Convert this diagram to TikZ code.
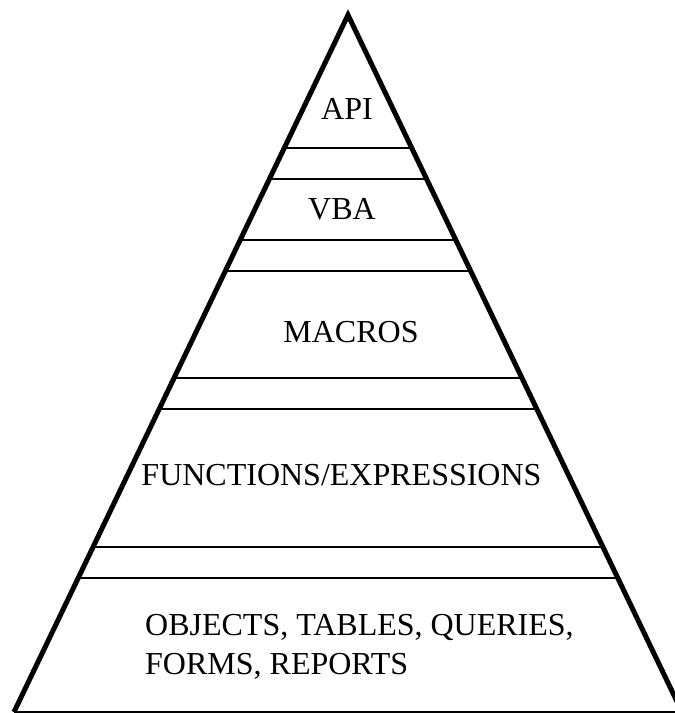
\documentclass[tikz,border=0pt]{standalone}
\usepackage{fontspec}
\setmainfont{Liberation Serif}
\usetikzlibrary{calc}
\begin{document}
\begin{tikzpicture}[x=1pt,y=-1pt,
  layertext/.style={inner sep=0pt, font=\fontsize{32}{39}\selectfont},
  divider/.style={line width=1.3pt, black},
  side/.style={line width=5pt, black, line join=miter}]
\useasboundingbox (0,0) rectangle (675,713);
\clip (0,0) rectangle (675,713);
\fill[white] (0,0) rectangle (675,713);

% pyramid corners
\coordinate (apex) at (348,15);
\coordinate (bl) at (14,712);
\coordinate (br) at (682,712);
\coordinate (bedge) at (675,712);

% horizontal dividers between the layers
\foreach \yy [count=\i] in {148,179,240,271,378,409,547,578} {
  \pgfmathsetmacro{\t}{(\yy-15)/697}
  \draw[divider] ($(apex)!\t!(bl)$) -- ($(apex)!\t!(br)$);
}
% base line
\draw[line width=1.3pt] (bl) -- (bedge);
% thick sides
\draw[side] (bl) -- (apex) -- (br);

% layer labels
\node[layertext, anchor=base] (api) at (347,119) {API};
\node[layertext, anchor=base] (vba) at (342,219) {VBA};
\node[layertext, anchor=base] (macros) at (351,342) {MACROS};
\node[layertext, anchor=base] (func) at (341.5,485) {FUNCTIONS/EXPRESSIONS};
\node[layertext, anchor=base west] (objs) at (145,635)
  {\begin{tabular}[t]{@{}l@{}}OBJECTS, TABLES, QUERIES,\\FORMS, REPORTS\end{tabular}};
\end{tikzpicture}
\end{document}
